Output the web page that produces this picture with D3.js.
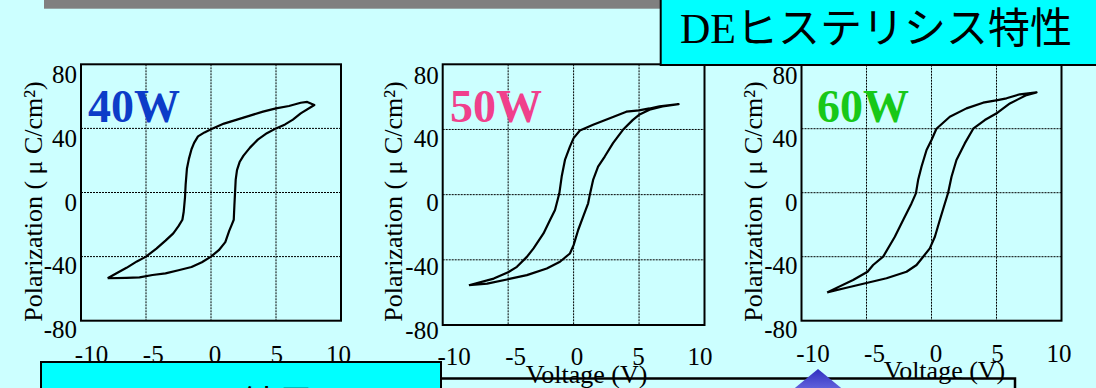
<!DOCTYPE html>
<html>
<head>
<meta charset="utf-8">
<script src="https://cdn.jsdelivr.net/npm/d3@7"></script>
<style>
  html, body { margin: 0; padding: 0; background: #CCFFFF; overflow: hidden; }
  svg { display: block; }
</style>
</head>
<body>
<svg id="chart" width="1096" height="388"></svg>
<script>
// D-E hysteresis loops measured at three sputtering powers.
const powers = ["40W", "50W", "60W"];
const powerColors = ["#0C3CC8", "#F0408C", "#18C818"];
const xTicks = [-10, -5, 0, 5, 10];
const yTicks = [-80, -40, 0, 40, 80];
const xGrid = [-5, 0, 5];
const yGrid = [-40, 0, 40];
const xLabel = "Voltage (V)";
const yLabel = "Polarization ( \u03bc C/cm\u00b2)";
const title = "DEヒステリシス特性";
const footerTitle = "結果";

// [voltage V, polarization uC/cm2], traced around each closed loop
const loop40 = [
  [-7.95, -53.5], [-6.5, -53.3], [-5.5, -53], [-4.5, -51.5], [-3.5, -50.5], [-2.5, -48.5],
  [-1.5, -46.5], [-0.7, -43.5], [0, -40], [0.6, -36], [1.1, -31], [1.4, -24], [1.6, -20],
  [1.75, -17], [1.8, -8], [1.85, 0], [1.9, 8], [2.0, 14], [2.2, 19], [2.5, 23], [3.0, 28],
  [3.6, 33], [4.3, 37], [5.0, 40], [5.7, 42.5], [6.3, 45.5], [6.9, 49.4], [7.95, 54.6],
  [7.4, 56.5], [6.9, 56], [6, 54], [5, 52.5], [4, 50.5], [3, 48], [2, 45.5], [1, 43],
  [0, 39.5], [-0.5, 37.5], [-1.0, 35], [-1.3, 31], [-1.5, 27], [-1.7, 21], [-1.85, 15],
  [-1.95, 5], [-2.0, -3], [-2.1, -12], [-2.2, -17], [-2.5, -21], [-2.9, -25.5], [-3.5, -30],
  [-4.2, -35], [-5, -40], [-5.7, -43], [-6.5, -47], [-7.3, -50.5], [-7.95, -53.5]
];
const loop50 = [
  [-8.0, -55.6], [-6.6, -54.6], [-5.0, -51.9], [-3.57, -49.4], [-2.05, -45.3], [-1.04, -41.2],
  [-0.28, -36.1], [0, -31], [0.35, -21.7], [0.73, -13.5], [1.11, -5.3], [1.24, 0], [1.49, 9],
  [1.87, 17.2], [2.38, 23.4], [3.01, 31.6], [3.77, 39.8], [4.53, 45.9], [5, 49], [5.8, 52.1],
  [6.8, 54.2], [8.02, 55.6],
  [6.56, 54.2], [5.8, 52.9], [5, 51.7], [4.03, 50.9], [3.01, 47.6], [1.49, 42.9], [0.48, 39.4],
  [0, 34.7], [-0.28, 29.5], [-0.66, 21.3], [-0.91, 11.1], [-1.09, 0.8], [-1.42, -9.4],
  [-1.8, -15.6], [-2.3, -23.8], [-3.06, -33], [-3.57, -38.2], [-4.33, -44.3], [-5, -47.6],
  [-6.1, -51.5], [-8.0, -55.6]
];
const loop60 = [
  [-8.03, -62.3], [-6.54, -59.4], [-4.92, -56.3], [-3.46, -53.5], [-1.92, -49.4], [-1.15, -45.2],
  [-0.64, -40], [-0.13, -34.8], [0.26, -27.5], [0.64, -17.1], [0.95, -8.75], [1.28, 0],
  [1.54, 10], [1.92, 20.4], [2.56, 30.8], [3.21, 40], [4.1, 45.4], [5.08, 50], [6.03, 55.8],
  [7.31, 61], [8.08, 62.7],
  [6.8, 61.5], [5.77, 59], [5.08, 57.9], [3.97, 56.25], [2.69, 52.7], [1.41, 47.5], [0.38, 40],
  [0, 32.9], [-0.38, 26.7], [-0.77, 16.25], [-1.03, 7.9], [-1.2, -0.4], [-1.54, -6.7],
  [-2.18, -17.1], [-2.82, -27.5], [-3.72, -40], [-4.49, -45.2], [-4.92, -49.4], [-6.03, -54.6],
  [-8.03, -62.3]
];
const loops = [loop40, loop50, loop60];

// Panel frames and label placement
const panels = [
  { x0: 81,    x1: 341,    y0: 64.3, y1: 320.7, titleX: 41.5,  tickTop: 345.5, labIn: [10, -3], yLabIn: [8.8, 10.2], xTitleY: 381, tagX: 88 },
  { x0: 442.7, x1: 704.5,  y0: 64.3, y1: 325,   titleX: 401.5, tickTop: 347,   labIn: [11, -5], yLabIn: [5, 10.7],   xTitleY: 383, tagX: 450 },
  { x0: 801.5, x1: 1061.5, y0: 64.7, y1: 320.7, titleX: 761.5, tickTop: 344,   labIn: [11, -3], yLabIn: [8.3, 10.3], xTitleY: 379, tagX: 817 }
];

const svg = d3.select("#chart");
const serif = "'Liberation Serif', 'Times New Roman', serif";

svg.append("rect").attr("width", 1096).attr("height", 388).attr("fill", "#CCFFFF");
// header rule
svg.append("rect").attr("x", 44).attr("y", 0).attr("width", 630).attr("height", 8.7).attr("fill", "#808080");

panels.forEach((p, i) => {
  const g = svg.append("g");
  const x = d3.scaleLinear().domain([-10, 10]).range([p.x0, p.x1]);
  const y = d3.scaleLinear().domain([-80, 80]).range([p.y1, p.y0]);
  const xl = d3.scaleLinear().domain([-10, 10]).range([p.x0 + p.labIn[0], p.x1 + p.labIn[1]]);
  const yl = d3.scaleLinear().domain([-80, 80]).range([p.y1 + p.yLabIn[0], p.y0 + p.yLabIn[1]]);

  g.selectAll(".vg").data(xGrid).join("line")
    .attr("x1", d => x(d)).attr("x2", d => x(d)).attr("y1", p.y0).attr("y2", p.y1)
    .attr("stroke", "#000").attr("stroke-width", 1).attr("stroke-dasharray", "2,1");
  g.selectAll(".hg").data(yGrid).join("line")
    .attr("y1", d => y(d)).attr("y2", d => y(d)).attr("x1", p.x0).attr("x2", p.x1)
    .attr("stroke", "#000").attr("stroke-width", 1).attr("stroke-dasharray", "2,1");

  g.append("rect").attr("x", p.x0).attr("y", p.y0)
    .attr("width", p.x1 - p.x0).attr("height", p.y1 - p.y0)
    .attr("fill", "none").attr("stroke", "#000").attr("stroke-width", 2);

  g.append("path").datum(loops[i])
    .attr("d", d3.line().x(d => x(d[0])).y(d => y(d[1])))
    .attr("fill", "none").attr("stroke", "#000").attr("stroke-width", 2.2)
    .attr("stroke-linejoin", "round");

  const ax = g.append("g").attr("transform", `translate(0,${p.tickTop})`)
    .call(d3.axisBottom(xl).tickValues(xTicks).tickSize(0).tickPadding(0).tickFormat(d => String(d)));
  const ay = g.append("g").attr("transform", `translate(${p.x0},0)`)
    .call(d3.axisLeft(yl).tickValues(yTicks).tickSize(0).tickPadding(4).tickFormat(d => String(d)));
  [ax, ay].forEach(a => {
    a.attr("font-family", serif).attr("font-size", 25);
    a.select(".domain").remove();
    a.selectAll("text").attr("fill", "#000");
  });

  g.append("text")
    .attr("transform", `translate(${p.titleX},201.5) rotate(-90)`)
    .attr("text-anchor", "middle").attr("font-family", serif).attr("font-size", 26)
    .text(yLabel);

  g.append("text")
    .attr("x", (p.x0 + p.x1) / 2 + 13).attr("y", p.xTitleY)
    .attr("text-anchor", "middle").attr("font-family", serif).attr("font-size", 26)
    .text(xLabel);

  g.append("text")
    .attr("x", p.tagX).attr("y", 122)
    .attr("font-family", serif).attr("font-weight", "bold").attr("font-size", 46)
    .attr("fill", powerColors[i]).text(powers[i]);
});

// title box
svg.append("rect").attr("x", 660.7).attr("y", -5).attr("width", 445).attr("height", 70)
  .attr("fill", "#00FFFF").attr("stroke", "#000").attr("stroke-width", 2);
svg.append("text").attr("x", 680).attr("y", 43)
  .attr("font-family", "'Liberation Serif', 'Noto Sans CJK JP', serif").attr("font-size", 42)
  .text(title);

// lower boxes
svg.append("rect").attr("x", 380).attr("y", 378.5).attr("width", 635).attr("height", 40)
  .attr("fill", "none").attr("stroke", "#000").attr("stroke-width", 2.5);
svg.append("rect").attr("x", 41).attr("y", 362).attr("width", 400).attr("height", 40)
  .attr("fill", "#00FFFF").attr("stroke", "#000").attr("stroke-width", 2);
svg.append("text").attr("x", 278).attr("y", 417).attr("text-anchor", "middle")
  .attr("font-family", "'Noto Sans CJK JP', sans-serif").attr("font-size", 36).text(footerTitle);

// arrow head
const grad = svg.append("defs").append("linearGradient").attr("id", "arrowFill")
  .attr("x1", 0).attr("y1", 0).attr("x2", 0).attr("y2", 1);
grad.append("stop").attr("offset", "0%").attr("stop-color", "#3030C0");
grad.append("stop").attr("offset", "100%").attr("stop-color", "#6A6AE0");
svg.append("path").attr("d", "M818,369 L846,392 L790,392 Z").attr("fill", "url(#arrowFill)");
</script>
</body>
</html>
